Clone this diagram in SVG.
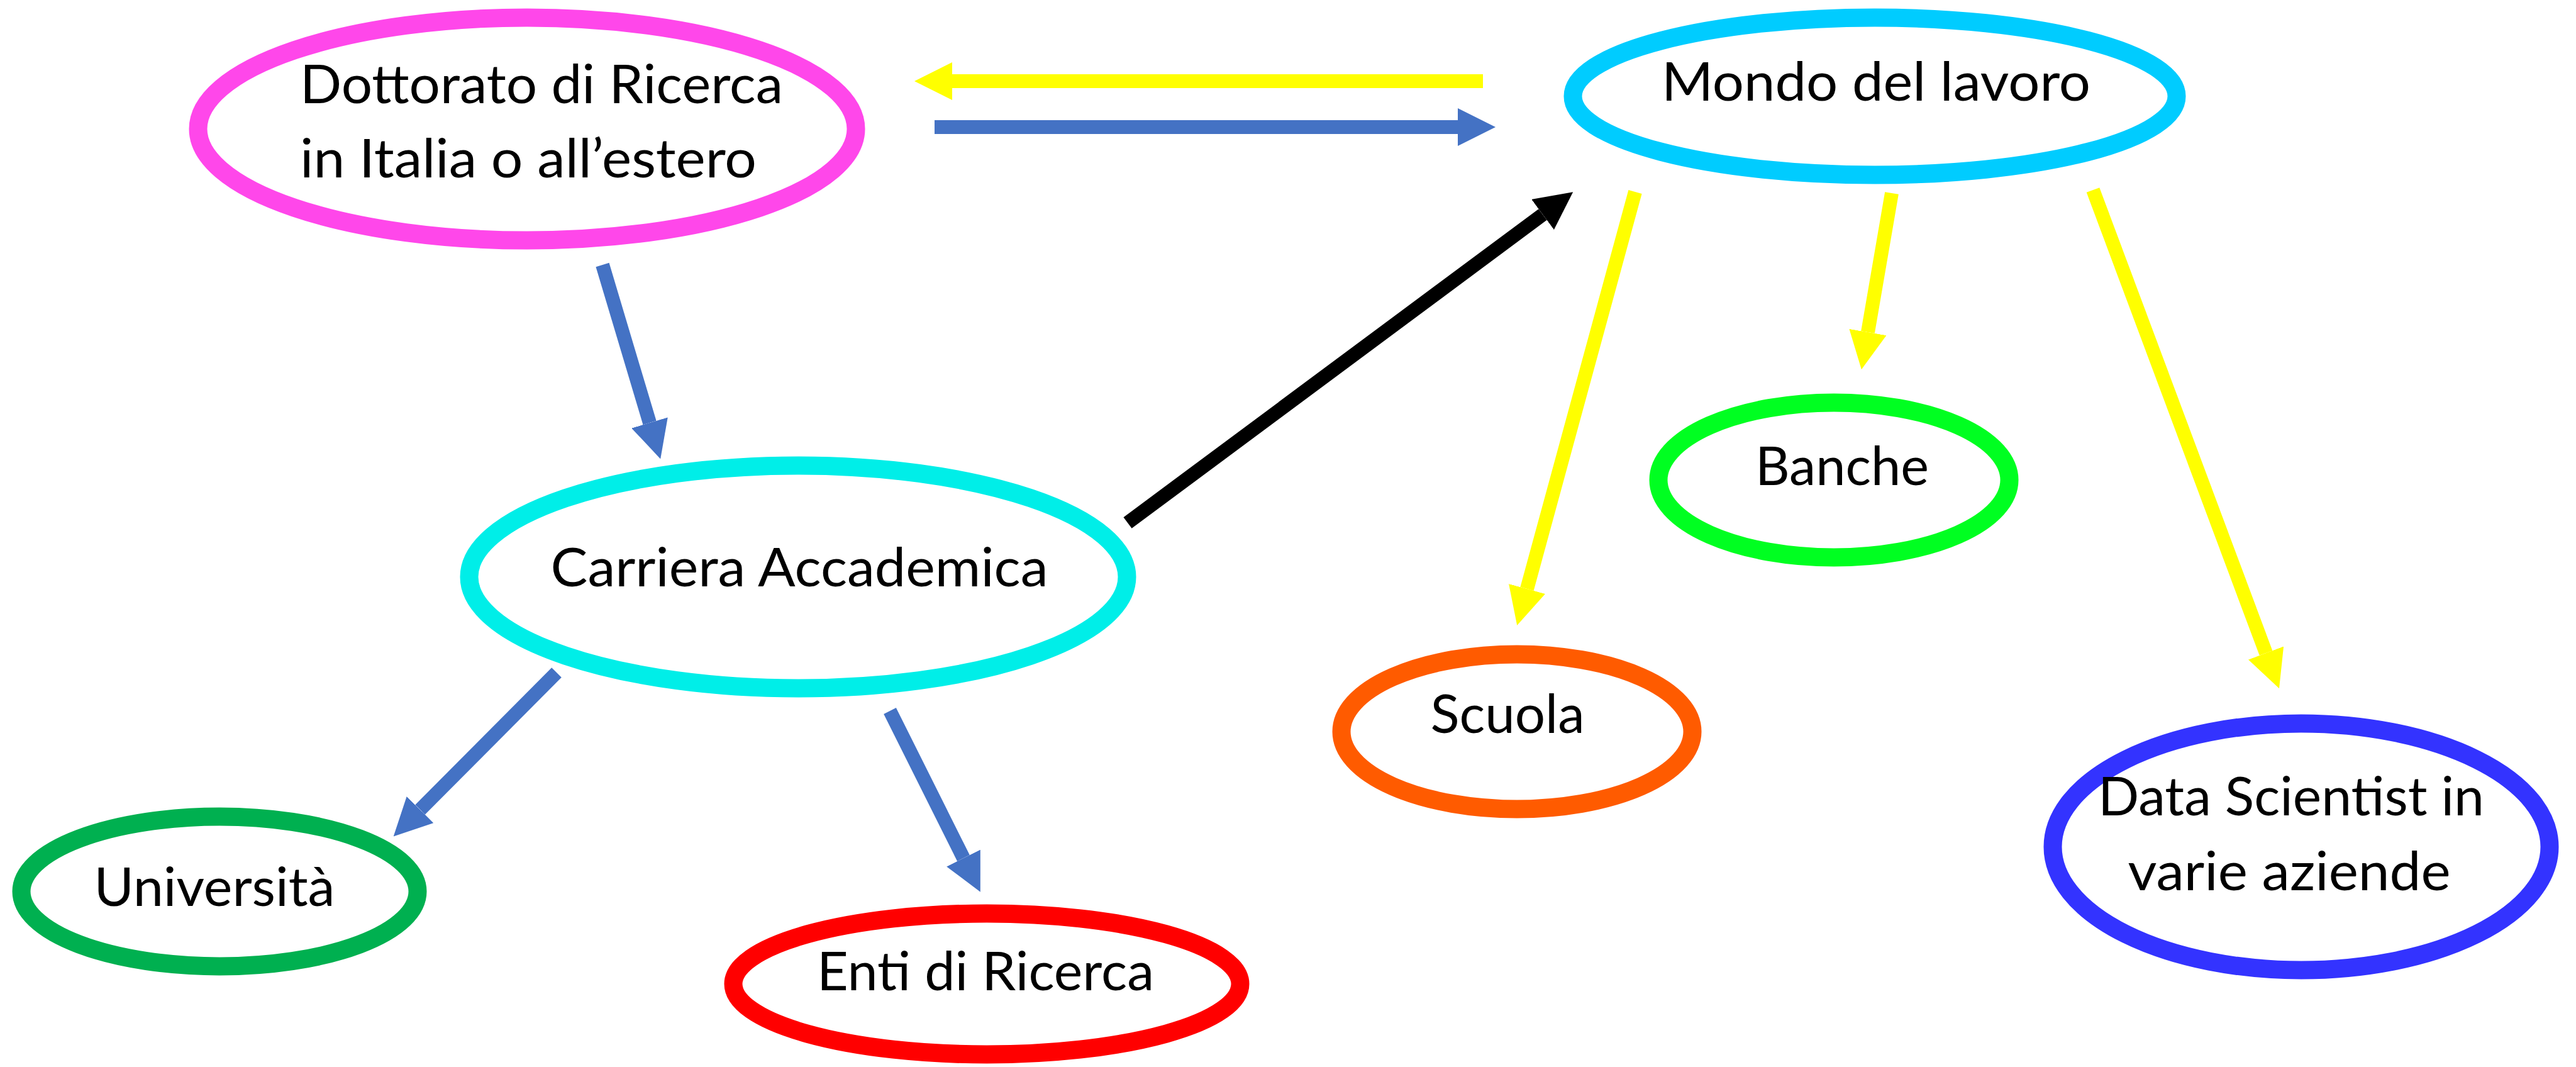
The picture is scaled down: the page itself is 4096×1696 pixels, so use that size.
<svg xmlns="http://www.w3.org/2000/svg" width="4096" height="1696" viewBox="0 0 4096 1696">
<style>
.node{fill:#FFFFFF;stroke-width:29}
.lbl{font-family:Lato,"Liberation Sans",sans-serif;font-size:86px;fill:#000000}
.c{stroke-width:22;fill:none;stroke-linecap:butt}
.y{stroke:#FFFF00}
.b{stroke:#4472C4}
.k{stroke:#000000}
</style>
<defs>
<marker id="hy" markerUnits="userSpaceOnUse" markerWidth="60" markerHeight="60" viewBox="0 0 60 60" refX="0" refY="30" orient="auto"><path d="M0,0 L60,30 L0,60 Z" fill="#FFFF00"/></marker>
<marker id="hb" markerUnits="userSpaceOnUse" markerWidth="60" markerHeight="60" viewBox="0 0 60 60" refX="0" refY="30" orient="auto"><path d="M0,0 L60,30 L0,60 Z" fill="#4472C4"/></marker>
<marker id="hk" markerUnits="userSpaceOnUse" markerWidth="60" markerHeight="60" viewBox="0 0 60 60" refX="0" refY="30" orient="auto"><path d="M0,0 L60,30 L0,60 Z" fill="#000000"/></marker>
</defs>
<rect width="4096" height="1696" fill="#FFFFFF"/>
<g id="connectors">
<line class="c y" x1="2358" y1="129" x2="1514" y2="129" marker-end="url(#hy)"/>
<line class="c b" x1="1486" y1="202" x2="2318" y2="202" marker-end="url(#hb)"/>
<line class="c b" x1="958" y1="421" x2="1033" y2="672" marker-end="url(#hb)"/>
<line class="c b" x1="885" y1="1069" x2="668" y2="1287" marker-end="url(#hb)"/>
<line class="c b" x1="1415" y1="1130" x2="1532" y2="1364" marker-end="url(#hb)"/>
<line class="c k" x1="1793" y1="831" x2="2453" y2="341" marker-end="url(#hk)"/>
<line class="c y" x1="2600" y1="305" x2="2428" y2="936" marker-end="url(#hy)"/>
<line class="c y" x1="3008" y1="307" x2="2970" y2="528" marker-end="url(#hy)"/>
<line class="c y" x1="3328" y1="302" x2="3603" y2="1038" marker-end="url(#hy)"/>
</g>
<g id="dottorato">
<ellipse class="node" cx="838" cy="205" rx="523" ry="177" stroke="#FF47EA"/>
<text class="lbl" x="477" y="164" textLength="768" lengthAdjust="spacingAndGlyphs">Dottorato di Ricerca</text>
<text class="lbl" x="477" y="282" textLength="726" lengthAdjust="spacingAndGlyphs">in Italia o all’estero</text>
</g>
<g id="mondo">
<ellipse class="node" cx="2981" cy="153" rx="480" ry="125" stroke="#00CCFF"/>
<text class="lbl" x="2983" y="160" text-anchor="middle" textLength="682" lengthAdjust="spacingAndGlyphs">Mondo del lavoro</text>
</g>
<g id="carriera">
<ellipse class="node" cx="1269" cy="917" rx="523" ry="177" stroke="#00EEE8"/>
<text class="lbl" x="1271" y="932" text-anchor="middle" textLength="791" lengthAdjust="spacingAndGlyphs">Carriera Accademica</text>
</g>
<g id="banche">
<ellipse class="node" cx="2916" cy="763" rx="279" ry="123" stroke="#00FF21"/>
<text class="lbl" x="2929" y="771" text-anchor="middle" textLength="276" lengthAdjust="spacingAndGlyphs">Banche</text>
</g>
<g id="scuola">
<ellipse class="node" cx="2412" cy="1163" rx="279" ry="123" stroke="#FF5B00"/>
<text class="lbl" x="2397" y="1165" text-anchor="middle" textLength="245" lengthAdjust="spacingAndGlyphs">Scuola</text>
</g>
<g id="universita">
<ellipse class="node" cx="349" cy="1417" rx="315" ry="119" stroke="#00B050"/>
<text class="lbl" x="341" y="1440" text-anchor="middle" textLength="383" lengthAdjust="spacingAndGlyphs">Università</text>
</g>
<g id="enti">
<ellipse class="node" cx="1569" cy="1564" rx="403" ry="112" stroke="#FF0000"/>
<text class="lbl" x="1567" y="1574" text-anchor="middle" textLength="536" lengthAdjust="spacingAndGlyphs">Enti di Ricerca</text>
</g>
<g id="datascientist">
<ellipse class="node" cx="3659" cy="1346" rx="395" ry="196" stroke="#3333FF"/>
<text class="lbl" x="3643" y="1296" text-anchor="middle" textLength="614" lengthAdjust="spacingAndGlyphs">Data Scientist in</text>
<text class="lbl" x="3640" y="1415" text-anchor="middle" textLength="513" lengthAdjust="spacingAndGlyphs">varie aziende</text>
</g>
</svg>
